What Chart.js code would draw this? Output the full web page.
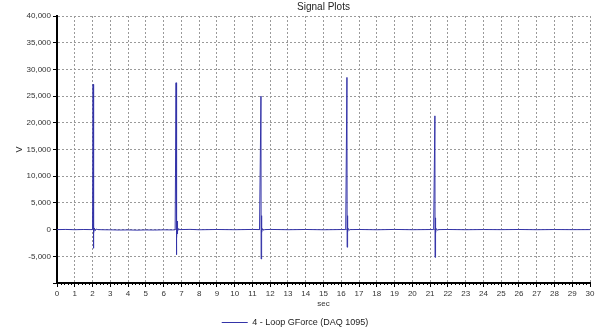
<!DOCTYPE html>
<html>
<head>
<meta charset="utf-8">
<script src="https://cdn.jsdelivr.net/npm/chart.js@4.4.0/dist/chart.umd.min.js"></script>
<style>
  html,body{margin:0;padding:0;background:#fff;}
  #wrap{width:600px;height:330px;}
</style>
</head>
<body>
<div id="wrap"><canvas id="plot" width="600" height="330"></canvas></div>
<script>
// --- Data ---
const SERIES_LABEL = '4 - Loop GForce (DAQ 1095)';
const timeSec = [
  0, 0.5, 1.0, 1.5, 1.9, 2.0,
  2.03, 2.04, 2.05, 2.07, 2.08, 2.10, 2.15, 2.2, 2.3,
  2.6, 3.0, 3.5, 4.0, 4.5, 5.0, 5.5, 6.0, 6.5, 6.65,
  6.70, 6.71, 6.72, 6.73, 6.74, 6.75, 6.76, 6.77, 6.78, 6.80, 6.85, 6.9,
  7.5, 8.0, 9.0, 10.0, 11.0, 11.4,
  11.48, 11.49, 11.50, 11.52, 11.53, 11.55, 11.6, 11.7,
  12.0, 13.0, 14.0, 15.0, 16.0, 16.25,
  16.32, 16.33, 16.34, 16.36, 16.37, 16.40, 16.45, 16.5,
  17.0, 18.0, 19.0, 20.0, 21.0, 21.2,
  21.27, 21.28, 21.29, 21.31, 21.32, 21.34, 21.4, 21.5,
  22.0, 23.0, 24.0, 25.0, 26.0, 27.0, 28.0, 29.0, 30.0
];
const volts = [
  0, 30, -20, 20, 0, 0,
  27200, -3500, 500, 2400, -600, 300, -200, 100, 0,
  -30, -40, -80, -60, -100, -60, -80, -40, -60, -30,
  27500, -4700, 1800, -1200, 2000, -1500, 1600, -800, 1000, -300, 200, 0,
  40, -30, 20, -20, 30, 0,
  25000, -5500, 600, 2600, -500, 200, -100, 0,
  30, -20, 20, -30, 10, 0,
  28500, -3300, 500, 2600, -400, 200, -100, 0,
  20, -30, 30, -20, 10, 0,
  21300, -5200, 400, 2200, -600, 200, -100, 0,
  20, -20, 10, -10, 20, -20, 10, -10, 0
];
const yTicks = { min: -10000, max: 40000, step: 5000 };
const xTicks = { min: 0, max: 30, step: 1, minorStep: 0.2 };

const FONT = 'Liberation Sans, Arial, sans-serif';
const LINE = '#3434a8';
const GRID = '#9a9a9a';

// minor ticks under the x axis
const minorTicks = {
  id: 'minorTicks',
  afterDraw(chart){
    const xs = chart.scales.x, ctx = chart.ctx, y0 = chart.chartArea.bottom;
    ctx.save();
    ctx.strokeStyle = '#000'; ctx.lineWidth = 1;
    ctx.beginPath();
    for(let v = xTicks.min; v <= xTicks.max + 1e-9; v += xTicks.minorStep){
      if(Math.abs(v - Math.round(v)) < 1e-6) continue;
      const px = Math.round(xs.getPixelForValue(v)) + 0.5;
      ctx.moveTo(px, y0); ctx.lineTo(px, y0 + 2);
    }
    ctx.stroke();
    ctx.restore();
  }
};

new Chart(document.getElementById('plot'), {
  type: 'line',
  data: {
    datasets: [{
      label: SERIES_LABEL,
      data: timeSec.map((t, i) => ({ x: t, y: volts[i] })),
      borderColor: LINE,
      backgroundColor: LINE,
      borderWidth: 1,
      pointRadius: 0,
      tension: 0,
      fill: false
    }]
  },
  options: {
    responsive: false,
    animation: false,
    layout: { padding: { left: 0, right: 10, top: 0, bottom: -7 } },
    plugins: {
      title: {
        display: true, text: 'Signal Plots', color: '#222',
        fullSize: false,
        font: { family: FONT, size: 10, weight: 'normal' },
        padding: { top: 1, bottom: 3 }
      },
      legend: {
        position: 'bottom',
        labels: {
          color: '#222', font: { family: FONT, size: 9 },
          usePointStyle: true, pointStyle: 'line', pointStyleWidth: 26,
          boxHeight: 9, padding: 4
        }
      },
      tooltip: { enabled: false }
    },
    scales: {
      x: {
        type: 'linear',
        min: xTicks.min, max: xTicks.max,
        ticks: { stepSize: xTicks.step, color: '#333', font: { family: FONT, size: 8 }, padding: 2, maxRotation: 0, autoSkip: false },
        grid: { color: GRID, tickLength: 4, tickColor: '#000', tickBorderDash: [] },
        border: { color: '#000', width: 2, dash: [2, 2] },
        title: { display: true, text: 'sec', color: '#333', font: { family: FONT, size: 8 }, padding: { top: 0, bottom: 5 } },
        afterFit: s => { s.height = 31; }
      },
      y: {
        min: yTicks.min, max: yTicks.max,
        ticks: {
          stepSize: yTicks.step, color: '#333', font: { family: FONT, size: 8 }, padding: 2,
          callback: v => v === yTicks.min ? '' : v.toLocaleString('en-US')
        },
        grid: { color: GRID, tickLength: 4, tickColor: '#000', tickBorderDash: [] },
        border: { color: '#000', width: 2, dash: [2, 2] },
        title: { display: true, text: 'V', color: '#333', font: { family: FONT, size: 9 }, padding: { top: 14, bottom: 0 } },
        afterFit: s => { s.width = 57; }
      }
    }
  },
  plugins: [minorTicks]
});
</script>
</body>
</html>
